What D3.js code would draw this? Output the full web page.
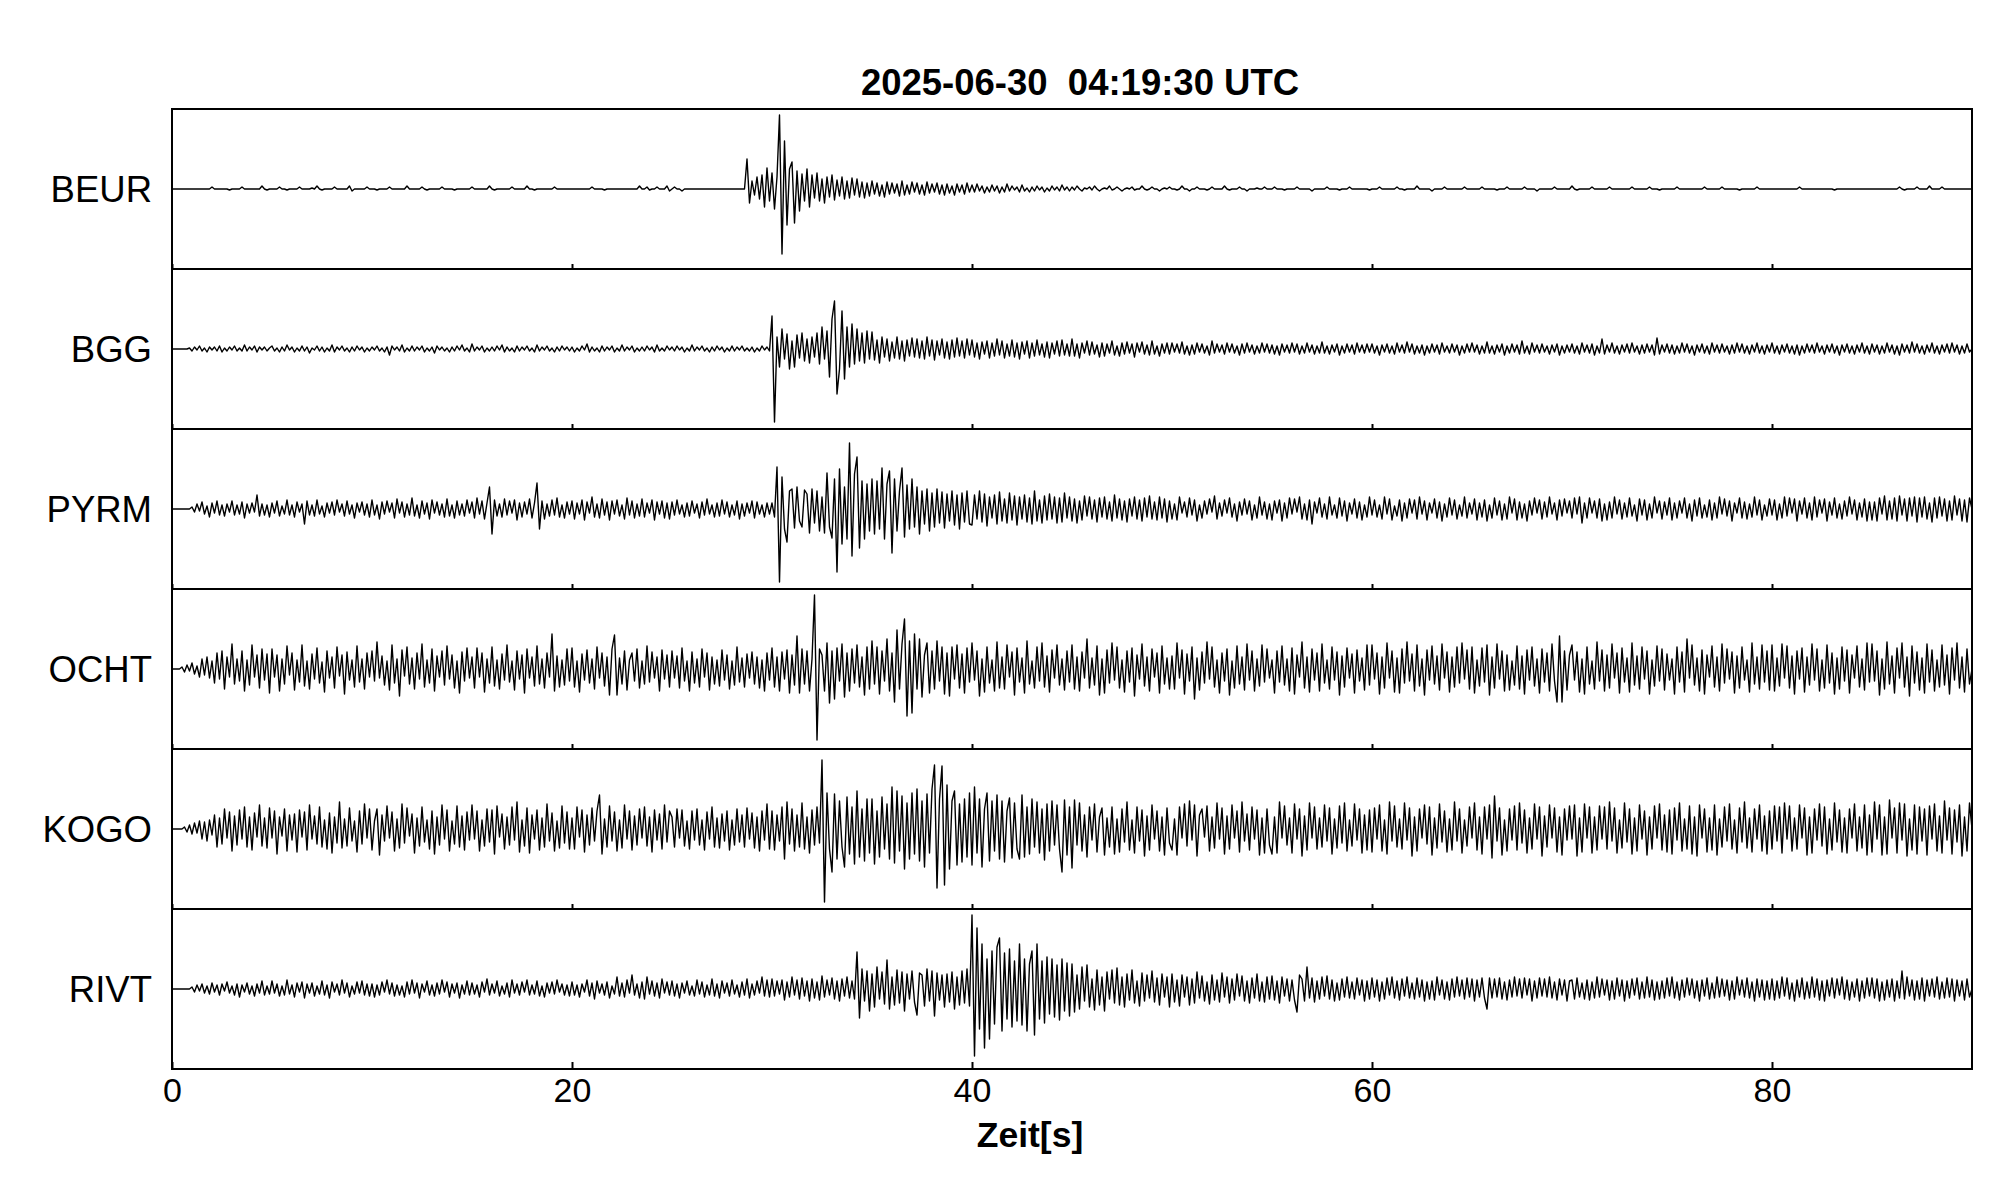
<!DOCTYPE html>
<html>
<head>
<meta charset="utf-8">
<script src="https://cdn.jsdelivr.net/npm/d3@7"></script>
<style>
body { margin: 0; background: #fff; }
svg { display: block; }
text { font-family: "Liberation Sans", Arial, sans-serif; fill: #000; }
</style>
</head>
<body>
<div id="chart"></div>
<script>
// station names, top to bottom
const stations = ["BEUR", "BGG", "PYRM", "OCHT", "KOGO", "RIVT"];
const title = "2025-06-30  04:19:30 UTC";
const xLabel = "Zeit[s]";
const xTicks = [0, 20, 40, 60, 80];

// trace deflections, one value every 0.125 s from 0 to 90 s
// (one row = 5 s), in panel pixels, positive = up
const beur = [
0,0,0,0,0,0,0,0,0,0,0,0,0,0,0,0,2,0,0,0,0,0,0,-1,0,0,0,0,2,0,0,0,0,0,0,0,3,0,-1,0,
0,0,0,2,0,0,-1,0,0,0,0,2,0,0,0,0,1,0,3,0,-1,0,0,0,0,2,0,0,0,0,0,3,-2,0,0,0,0,0,2,0,
0,0,-1,0,0,0,0,2,0,0,0,0,0,0,3,0,0,0,0,0,2,0,-1,0,0,0,0,0,2,0,0,0,0,-1,0,0,0,0,0,0,
2,0,0,0,0,0,0,3,0,-1,0,0,0,0,0,0,2,0,0,0,0,0,3,0,0,-1,0,0,0,0,0,0,0,2,0,0,0,0,0,0,
0,0,0,0,0,0,0,0,2,0,0,0,0,-1,0,0,0,0,0,0,0,0,0,0,0,0,0,3,0,0,2,-1,0,0,2,0,0,0,3,-2,
0,2,0,0,-2,0,0,0,0,0,0,0,0,0,0,0,0,0,0,0,0,0,0,0,0,0,0,0,0,0,30,-14,8,-6,12,-10,14,-18,21,-12,
16,-20,12,74,-65,48,-36,20,27,-34,18,-22,15,-12,20,-18,14,-9,16,-12,10,-14,12,-8,14,-11,9,-7,12,-10,8,-9,11,-6,10,-8,7,-9,6,-7,
8,-5,6,-7,4,-8,7,-5,6,-4,5,-7,8,-6,4,-5,7,-3,6,-5,4,-6,7,-4,5,-3,6,-5,4,-6,5,-4,3,-6,5,-3,4,-5,6,-3,
4,-3,5,-2,3,-4,2,-3,4,-2,3,-4,2,-3,5,-2,3,-1,2,-3,4,-2,1,-3,2,-2,3,-1,2,-3,1,-2,3,-1,2,-2,4,-1,2,-2,
2,-1,3,0,-2,1,0,2,-1,3,0,-2,0,1,0,3,-1,0,2,0,-2,0,1,0,2,-1,0,0,3,0,-1,0,2,0,0,-2,0,1,0,2,
0,0,-1,0,3,0,0,-2,0,0,2,0,0,0,-1,0,2,0,0,0,0,3,0,-1,0,0,0,2,0,0,-2,0,0,0,1,0,0,2,0,0,
0,2,0,0,0,-1,0,0,0,0,2,0,0,0,0,0,-2,0,0,0,0,0,2,0,0,0,0,-1,0,0,0,2,0,0,0,0,0,0,0,-1,
0,0,0,2,0,0,0,0,0,0,2,0,0,-1,0,0,0,0,3,0,0,0,0,0,-2,0,0,0,0,2,0,0,0,0,0,0,0,2,0,0,
0,0,0,0,2,0,0,0,0,0,-1,0,0,0,2,0,0,0,0,0,0,2,0,0,0,0,-2,0,0,0,0,0,0,2,0,0,0,0,0,0,
3,0,-1,0,0,0,0,0,2,0,0,0,0,0,0,2,0,0,0,0,0,0,0,0,2,0,0,0,0,0,0,2,0,0,0,-1,0,0,0,0,
0,0,2,0,0,0,0,0,0,0,0,0,0,2,0,0,0,0,0,0,2,0,0,0,0,0,0,-1,0,0,0,0,0,0,2,0,0,0,0,0,
0,0,0,0,0,0,0,0,0,0,0,2,0,0,0,0,0,0,0,0,0,0,0,0,0,-1,0,0,0,0,0,0,0,0,0,0,0,0,0,0,
0,0,0,0,0,0,0,0,0,0,0,2,0,-1,0,0,0,0,2,0,0,0,0,3,0,0,0,0,2,0,0,0,0,0,0,0,0,0,0,0,
0];

const bgg = [
0,0,0,0,0,0,0,1,-2,2,-1,3,-2,1,-3,2,-1,2,-2,3,-3,1,-2,2,-1,3,-2,1,-2,4,-2,2,-1,3,-3,2,-1,2,-2,1,
3,-2,1,-3,2,-2,4,-1,2,-3,1,-2,3,-2,2,-4,1,-1,3,-2,2,-3,1,-2,4,-3,2,-1,3,-2,1,-3,2,-2,3,-1,2,-3,1,-2,
2,-1,3,-2,1,-3,2,-6,3,-1,2,-2,4,-3,1,-2,3,-2,2,-1,3,-3,1,-2,2,-4,3,-1,2,-2,1,-3,2,-2,3,-1,4,-2,1,-3,
5,-2,2,-1,3,-3,1,-2,2,-2,3,-1,4,-3,2,-2,1,-3,3,-2,2,-1,3,-2,1,-3,4,-2,2,-1,3,-2,1,-3,2,-2,3,-1,2,-2,
2,-3,1,-2,3,-1,5,-3,2,-2,1,-3,3,-2,2,-1,3,-3,1,-2,4,-2,2,-1,3,-3,1,-2,2,-2,3,-1,2,-3,4,-2,1,-2,3,-1,
2,-2,3,-1,2,-3,1,-2,4,-2,2,-1,3,-2,1,-3,2,-2,3,-1,2,-3,1,-2,3,-2,2,-1,3,-2,1,-2,2,-3,1,-2,3,-1,2,-2,
33,-73,12,-18,20,-10,15,-20,8,-18,14,-9,16,-12,10,-14,12,-8,16,-15,22,-10,18,-28,30,48,-45,-20,38,-30,22,-18,25,-15,20,-12,16,-14,18,-10,
17,-11,9,-14,12,-8,10,-12,7,-9,12,-10,8,-12,9,-7,11,-8,10,-9,8,-10,12,-7,9,-11,8,-6,10,-9,7,-10,9,-8,11,-7,8,-9,10,-6,
9,-8,6,-10,7,-5,8,-9,6,-7,10,-6,8,-9,5,-7,9,-8,6,-10,7,-5,8,-9,6,-7,9,-6,5,-8,7,-9,6,-5,8,-7,9,-6,5,-7,
10,-7,5,-9,6,-4,8,-6,7,-5,4,-8,6,-7,5,-4,8,-6,3,-7,6,-5,7,-4,5,-8,6,-3,7,-5,4,-6,8,-5,3,-7,5,-4,6,-5,
6,-3,5,-4,7,-5,3,-6,4,-5,6,-3,5,-4,3,-6,8,-4,5,-3,4,-5,6,-3,5,-4,3,-6,5,-4,6,-3,4,-5,3,-4,6,-3,5,-4,
4,-5,3,-6,5,-3,4,-4,6,-3,5,-5,3,-4,6,-3,4,-5,3,-4,7,-4,3,-5,4,-3,5,-6,3,-4,5,-3,4,-5,6,-3,4,-4,5,-3,
5,-4,3,-6,4,-3,5,-4,3,-5,6,-3,4,-4,7,-3,5,-5,3,-4,4,-6,3,-4,5,-3,4,-5,6,-3,3,-4,5,-3,4,-6,3,-4,5,-3,
6,-3,4,-5,3,-4,7,-4,3,-5,4,-3,5,-6,3,-4,5,-3,4,-5,8,-4,3,-5,6,-3,4,-4,5,-3,3,-5,4,-3,5,-6,3,-4,4,-3,
5,-4,3,-5,6,-3,4,-4,5,-6,3,-4,10,-5,4,-3,6,-4,3,-5,4,-3,5,-4,6,-3,3,-5,4,-4,5,-3,4,-6,11,-5,4,-3,5,-4,
4,-5,3,-4,6,-3,5,-4,3,-6,4,-3,5,-4,3,-5,6,-3,4,-4,5,-3,3,-5,4,-4,6,-3,5,-4,3,-5,4,-3,6,-4,3,-5,4,-3,
6,-4,3,-5,4,-3,5,-4,3,-5,4,-6,3,-4,5,-3,4,-4,6,-3,3,-5,4,-3,5,-4,3,-6,4,-3,5,-4,3,-5,4,-3,6,-4,3,-5,
5,-3,4,-5,3,-4,6,-3,4,-5,3,-6,5,-3,4,-4,7,-3,5,-4,3,-5,4,-3,6,-4,3,-5,4,-3,5,-4,6,-3,4,-5,3,-4,5,-3,
0];

const pyrm = [
0,0,0,0,0,0,0,0,2,-3,5,-2,7,-5,3,-8,6,-4,8,-6,4,-7,5,-3,8,-6,4,-5,7,-9,5,-4,6,-3,14,-7,5,-6,4,-8,
6,-4,8,-7,3,-5,9,-6,4,-8,7,-3,5,-15,8,-6,4,-7,9,-5,3,-8,6,-4,7,-6,9,-3,5,-7,8,-5,4,-9,6,-3,7,-6,5,-8,
9,-6,4,-10,7,-5,8,-3,6,-9,10,-4,7,-8,5,-6,11,-7,4,-9,8,-5,6,-10,9,-4,7,-6,5,-8,10,-7,4,-9,8,-6,5,-7,9,-4,
7,-9,11,-5,8,-10,6,22,-25,9,-7,5,-8,10,-6,8,-4,9,-11,6,-8,7,-5,10,-9,6,26,-20,8,-10,5,-7,9,-6,11,-8,4,-9,7,-5,
8,-10,6,-5,9,-11,7,-4,12,-8,5,-9,10,-6,7,-11,8,-5,9,-7,4,-10,11,-6,8,-9,5,-7,10,-8,6,-4,9,-11,7,-5,8,-9,6,-10,
7,-6,9,-5,4,-8,6,-7,8,-4,5,-9,7,-6,10,-5,4,-8,6,-7,9,-5,7,-8,4,-6,8,-10,5,-7,6,-4,8,-9,7,-5,4,-8,6,-5,
6,-8,42,-73,32,-20,-33,18,20,-19,22,-12,-18,19,15,-24,20,-14,18,-22,12,-24,36,-18,-29,30,-63,40,-35,22,-30,66,-47,35,52,-39,28,-30,25,-22,
30,-25,28,-20,41,-30,25,38,-44,30,-22,18,41,-28,24,-20,30,-18,22,-25,18,-15,20,-22,16,-18,20,-14,17,-19,15,-12,18,-16,14,-20,16,-13,18,-15,
-16,14,-10,18,-13,15,-17,12,-9,14,-15,17,-12,10,-14,16,-11,13,-16,12,-10,14,-13,11,-15,18,-12,9,-14,13,-11,15,-10,12,-14,11,-13,16,-9,12,
-12,10,-14,8,-11,13,-7,12,-10,9,-13,11,-8,12,-10,7,-12,14,-9,10,-11,8,-13,10,-7,12,-10,9,-12,11,-8,13,-10,7,-11,12,-9,10,-13,8,
-10,5,-11,12,-4,7,-8,11,-6,9,-12,4,-9,8,-5,10,-3,13,-10,6,-7,9,-4,11,-8,5,-12,7,-6,10,-5,8,-11,4,-9,12,-6,7,-10,5,
-11,8,-4,9,-12,6,-9,11,-5,10,-3,12,-10,5,-11,9,-15,7,-4,11,-8,5,-10,12,-6,4,-9,11,-7,8,-12,6,-5,10,-9,7,-11,4,-8,12,
-6,9,-8,4,-10,12,-5,10,-11,3,-7,9,-12,6,-9,10,-4,9,-10,12,-5,8,-11,6,-4,10,-9,7,-12,5,-8,11,-6,9,-10,4,-7,12,-9,6,
-5,10,-11,6,-8,9,-12,4,-9,11,-6,8,-11,5,-10,12,-4,10,-11,7,-9,5,-12,8,-6,11,-4,9,-10,7,-8,12,-5,6,-11,9,-7,10,-4,8,
-9,11,-5,12,-14,6,-9,11,-4,8,-9,10,-12,5,-11,7,-9,12,-5,9,-10,6,-8,11,-7,4,-12,10,-6,9,-11,5,-9,12,-4,8,-10,7,-6,11,
-11,6,-9,8,-4,11,-9,5,-12,9,-7,11,-9,4,-8,9,-11,6,-9,12,-5,10,-7,8,-12,6,-4,11,-9,7,-10,5,-8,12,-6,9,-11,4,-7,10,
-6,9,-11,5,-9,12,-7,11,-4,10,-12,8,-5,11,-9,6,-11,12,-8,9,-4,10,-12,7,-6,11,-9,5,-10,8,-7,12,-5,9,-11,6,-8,10,-12,7,
-11,7,-12,11,-5,13,-11,8,-10,11,-12,13,-6,10,-12,11,-7,12,-13,11,-8,12,-10,6,-13,11,-9,12,-7,10,-12,8,-11,13,-6,10,-12,9,-13,11,
0];

const ocht = [
0,0,0,0,2,-3,4,-2,6,-5,3,-8,10,-6,12,-9,8,-14,16,-10,18,-20,12,-8,25,-15,10,-12,18,-22,9,-16,24,-8,14,-19,20,-11,15,-24,
20,-8,14,-22,10,-15,23,-6,16,-21,9,-13,24,-17,8,-20,15,-10,21,-14,7,-23,18,-9,12,-19,22,-7,14,-25,17,-11,9,-18,23,-13,10,-20,16,-8,
18,-12,27,-9,13,-16,8,-21,24,-14,10,-27,19,-7,22,-15,11,-20,16,-10,25,-18,9,-14,20,-22,13,-8,18,-16,23,-10,14,-19,8,-24,17,-12,21,-9,
12,-19,21,-8,16,-23,10,-14,22,-17,9,-20,15,-11,24,-13,8,-21,18,-10,14,-24,20,-9,12,-17,23,-15,10,-19,16,-8,35,-22,13,-18,9,-16,20,-12,
21,-18,8,-23,15,-11,19,-14,10,-20,22,-9,16,-17,12,-26,20,34,-26,11,-15,18,-21,9,16,-12,20,-19,8,-15,23,-13,17,-9,12,-22,19,-10,14,-18,
18,-9,13,-19,21,-12,8,-22,17,-14,10,-18,20,-8,16,-21,12,-15,9,-17,19,-11,14,-20,8,-16,22,-13,11,-18,15,-9,17,-15,12,-19,9,-22,16,-11,
21,-18,12,-22,17,-10,19,-24,14,-16,33,-24,20,-15,18,-22,10,74,-71,20,14,-22,26,-34,18,-30,21,-12,25,-28,16,-22,20,-14,24,-18,12,-26,22,-20,
28,-15,22,-25,18,-12,30,-22,16,-33,39,-20,25,50,-47,28,-44,35,-20,30,-28,14,26,-24,18,-20,28,-12,22,-25,16,-27,22,-10,24,-19,15,-24,21,-13,
26,-11,18,-27,10,-23,22,-14,9,-22,27,-19,12,-20,24,-8,17,-26,21,-13,11,-24,28,-15,8,-19,22,-12,26,-18,13,-23,19,-9,24,-16,10,-21,18,-13,
24,-20,12,-22,17,-9,30,-19,11,-16,23,-26,10,-24,19,-14,26,-11,22,-19,9,-23,18,-13,21,-27,14,-10,25,-17,12,-22,20,-8,16,-24,23,-15,11,-20,
13,-20,26,-9,19,-25,15,-12,22,-30,11,-21,17,-14,27,-10,22,-18,9,-24,16,-12,20,-26,8,-19,23,-15,12,-21,25,-11,18,-22,10,-17,24,-13,20,-9,
9,-24,18,-13,23,-16,10,-22,21,-25,14,-8,27,-19,12,-23,20,-11,16,-22,25,-14,9,-20,22,-11,17,-26,13,-18,21,-9,15,-24,19,-12,11,-21,24,-16,
24,-10,16,-25,12,-19,26,-9,18,-23,11,-24,20,-14,27,-12,15,-22,24,-17,10,-26,19,-11,23,-15,13,-21,25,-9,17,-23,12,-18,22,-14,26,-10,19,-20,
22,-24,9,-17,21,-13,24,-26,12,-19,25,-10,18,-22,14,-21,8,-16,23,-20,13,-25,19,-11,22,-17,10,-24,20,-13,16,-22,25,-12,-33,33,-33,18,-21,14,
24,-11,17,-23,10,-25,22,-15,8,-20,27,-12,19,-22,14,-19,25,-9,16,-24,21,-13,11,-23,26,-16,13,-20,22,-10,18,-25,9,-17,23,-12,20,-21,15,-11,
10,-25,22,-13,17,-23,30,-9,24,-16,11,-22,19,-25,14,-8,23,-18,12,-22,25,-14,20,-10,17,-24,13,-19,22,-11,9,-23,26,-15,12,-20,24,-13,18,-21,
24,-22,11,-17,25,-9,23,-19,13,-25,18,-10,21,-23,12,-16,25,-11,20,-22,9,-19,24,-14,16,-25,11,-20,22,-12,19,-24,14,-9,23,-18,10,-21,26,-13,
25,-12,18,-26,10,-20,27,-15,13,-24,21,-9,26,-18,12,-27,23,-14,17,-21,11,-24,25,-13,19,-22,9,-18,24,-16,14,-25,21,-11,26,-19,12,-23,20,-15,
0];

const kogo = [
0,0,0,0,0,2,-3,4,-5,6,-4,8,-10,7,-12,9,-6,14,-18,11,-15,20,-9,17,-22,13,-16,19,-10,22,-18,12,-21,16,-8,24,-17,11,-19,21,
-9,18,-25,12,-7,20,-22,14,-11,15,-23,19,-8,17,-21,24,-10,13,-15,22,-18,9,-20,16,-24,12,-14,27,-19,10,-17,21,-12,8,-23,18,-15,25,-9,20,
-21,8,20,-26,14,-12,23,-9,17,-22,10,-19,25,-14,21,-7,15,-24,11,-17,22,-13,9,-20,18,-25,12,-16,24,-10,19,-22,8,-15,23,-18,13,-21,17,-11,
24,-10,18,-22,9,-17,20,-13,19,-25,23,-8,15,-20,12,-16,22,-11,27,-23,9,-17,21,-24,14,-10,19,-21,11,-18,25,-12,16,-22,8,-19,23,-14,17,-20,
11,-20,22,-8,19,-23,14,-16,21,-12,18,34,-25,10,-18,23,-12,17,-22,9,-19,24,-10,18,-21,13,-16,20,-9,22,-17,12,-23,19,-11,15,-20,24,-13,18,
12,-18,20,-9,19,-17,8,-20,18,-11,20,-16,9,-21,17,-10,22,-18,11,-19,15,-12,18,-21,9,-16,20,-13,14,-18,21,-10,16,-19,12,-22,18,-11,25,-20,
18,-21,14,-12,22,-30,27,-15,20,-22,14,-18,26,-20,12,-24,19,-16,22,-14,69,-73,36,-20,-43,35,-30,28,-18,-38,32,-25,22,-35,38,-28,20,-32,30,-24,
30,-35,18,-28,32,-20,25,-30,42,-34,38,-22,33,-40,26,-30,36,-25,40,-32,28,-38,35,-24,40,64,-59,30,63,-56,44,-40,28,38,-36,25,-33,30,-28,36,
-36,42,-24,30,-38,20,36,-32,28,-22,34,-30,28,-33,18,31,-29,26,-20,-30,34,-28,22,-25,30,-18,27,-24,20,-31,25,-22,28,-16,24,-20,-43,29,-26,22,
-39,29,-16,26,-22,14,-28,22,-11,25,-23,12,21,-26,11,-18,22,-25,10,-23,20,-13,27,-21,9,-24,22,-12,19,-27,13,-21,24,-10,18,-22,12,-26,21,-14,
-21,10,-26,22,-9,25,-17,28,-11,24,-27,14,20,-8,23,-22,12,-19,26,-10,21,-25,13,-20,24,-9,18,-23,27,-12,15,-21,22,-10,19,-26,11,-24,20,-16,
-25,12,-24,27,-9,23,-16,11,-24,25,-10,20,-27,13,-21,26,-9,22,-20,11,-18,24,-12,21,-25,10,-19,23,-14,26,-22,9,-17,25,-11,20,-24,14,-21,19,
-23,21,-10,24,-22,9,-25,27,-12,23,-18,10,-20,26,-11,21,-27,12,-22,20,-9,24,-15,22,-26,11,-19,25,-13,18,-23,10,-21,27,-12,20,-24,9,-17,22,
-9,26,-21,12,-25,22,-10,24,-29,33,-12,21,-26,9,-22,20,-11,23,-21,26,-14,19,-24,11,-20,25,-10,22,-27,13,-18,24,-9,21,-23,12,-26,20,-11,23,
-10,24,-27,11,-23,25,-9,22,-24,12,-21,23,-10,22,-20,27,-12,21,-24,9,-19,26,-13,20,-25,11,-22,24,-10,18,-26,12,-20,23,-9,25,-21,14,-23,19,
-25,21,-11,26,-22,10,-20,23,-25,12,-27,24,-9,20,-23,11,-21,24,-26,10,-18,22,-12,25,-20,9,-24,21,-13,27,-19,11,-23,20,-10,24,-22,13,-25,18,
-20,23,-12,22,-24,26,-10,23,-22,11,-20,24,-9,21,-26,12,-24,20,-11,25,-17,22,-25,10,-21,26,-13,19,-23,11,-24,20,-9,25,-22,12,-19,24,-26,14,
-23,27,-10,24,-26,12,-25,29,-9,21,-24,26,-11,25,-27,10,-21,24,-25,22,-12,20,-26,23,-10,25,-22,13,-24,28,-11,21,-25,19,-13,24,-27,12,-22,26,
0];

const rivt = [
0,0,0,0,0,0,0,0,2,-3,4,-2,5,-4,3,-5,6,-3,4,-6,5,-2,7,-4,3,-6,5,-8,4,-3,6,-5,3,-7,5,-4,8,-6,3,-5,
8,-4,5,-7,3,-6,9,-5,4,-8,6,-3,7,-9,5,-4,6,-7,3,-5,8,-6,4,-9,7,-3,5,-6,9,-4,6,-8,3,-5,7,-4,8,-6,5,-7,
5,-8,4,-6,7,-3,9,-5,6,-7,4,-6,3,-8,7,-5,9,-4,6,-9,5,-3,8,-6,4,-7,6,-5,9,-3,7,-8,5,-4,6,-9,4,-5,8,-6,
6,-5,4,-8,7,-3,10,-6,5,-4,8,-7,3,-5,6,-8,9,-4,5,-6,7,-3,9,-6,4,-5,8,-7,3,-8,6,-4,7,-5,9,-3,5,-6,4,-7,
7,-6,4,-8,5,-3,9,-7,6,-10,8,-4,5,-6,7,-9,3,-5,12,-7,6,-8,9,-4,14,-6,5,-9,7,-10,12,-5,8,-7,6,-9,10,-4,7,-6,
8,-7,5,-9,6,-4,8,-6,3,-7,9,-5,7,-8,4,-6,10,-7,5,-9,8,-4,6,-7,9,-5,4,-8,7,-6,10,-9,5,-6,8,-4,12,-7,9,-8,
10,-7,8,-5,9,-11,7,-8,12,-6,9,-10,11,-7,8,-12,10,-9,7,-11,13,-8,9,-6,11,-10,8,-12,10,-7,12,-9,8,-10,37,-29,20,-12,18,-22,
15,-18,22,-10,17,-15,29,-20,12,-16,19,-14,17,-22,15,-10,18,-13,-26,16,14,-17,20,-12,18,-27,16,-11,14,-18,15,-13,17,-20,12,-16,18,-14,20,-17,
74,-67,61,-40,45,-59,30,-50,38,-35,42,51,-42,36,-30,40,-38,28,-32,45,-36,30,-42,25,38,-46,45,-30,28,-34,32,-25,30,-28,24,-31,30,-22,26,-27,
25,-23,14,-20,22,-12,24,-18,10,-21,19,-16,12,-22,17,-10,19,-14,21,-16,12,-18,15,-11,19,-14,8,-17,16,-12,14,-9,18,-13,11,-16,15,-8,12,-18,
15,-13,9,-17,14,-8,12,-16,10,-14,17,-9,13,-12,7,-15,14,-11,9,-13,16,-8,12,-14,10,-11,15,-7,13,-12,8,-14,11,-9,15,-12,7,-13,12,-10,
13,-11,8,-14,12,-7,10,-12,9,-11,-23,14,10,-12,22,-9,11,-13,8,-10,12,-7,13,-10,9,-12,6,-11,10,-8,12,-9,7,-10,11,-6,9,-12,8,-10,
11,-8,9,-12,7,-10,11,-6,12,-9,8,-11,10,-7,12,-9,6,-10,11,-8,9,-12,7,-10,8,-11,12,-6,9,-10,7,-11,10,-8,12,-7,9,-10,11,-8,
10,-12,9,-8,11,-9,-20,11,-9,10,-8,11,-10,7,-11,9,-8,12,-7,10,-9,11,-6,10,-12,8,-9,11,-7,10,-8,12,-9,7,-11,10,-6,9,-12,8,
9,-10,11,-8,6,-10,9,-11,7,-9,12,-8,10,-6,9,-11,8,-10,11,-7,9,-12,8,-9,10,-6,11,-10,7,-9,12,-8,9,-11,7,-10,8,-9,11,-7,
12,-9,7,-11,9,-8,11,-6,10,-9,8,-12,9,-7,11,-10,6,-9,12,-8,10,-7,9,-11,8,-10,12,-6,9,-8,11,-9,7,-12,10,-8,9,-11,8,-10,
10,-11,8,-9,12,-7,11,-10,6,-12,9,-8,11,-10,7,-9,12,-8,10,-11,8,-12,9,-7,11,-9,10,-6,12,-10,9,-11,7,-8,10,-12,8,-9,11,-7,
11,-9,10,-12,7,-11,9,-8,10,-12,8,-9,18,-10,12,-7,9,-11,8,-10,11,-12,9,-7,10,-8,12,-10,7,-9,11,-8,10,-12,9,-7,8,-11,10,-8,
0];

const traces = [beur, bgg, pyrm, ocht, kogo, rivt];

// layout
var width = 2005,
    height = 1202,
    plotLeft = 172,
    plotTop = 109,
    plotW = 1800,
    panelH = 160;

var svg = d3.select("#chart")
  .append("svg")
    .attr("width", width)
    .attr("height", height);

var x = d3.scaleLinear().domain([0, 90]).range([plotLeft, plotLeft + plotW]);
var y = d3.scaleLinear().domain([-80, 80]).range([panelH, 0]);

svg.append("defs").append("clipPath")
    .attr("id", "panel-clip")
  .append("rect")
    .attr("x", plotLeft)
    .attr("y", 0)
    .attr("width", plotW)
    .attr("height", panelH);

// title
svg.append("text")
    .attr("x", 1080)
    .attr("y", 95)
    .attr("text-anchor", "middle")
    .style("font-size", "36.5px")
    .style("font-weight", "bold")
    .style("white-space", "pre")
    .text(title);

stations.forEach(function(name, k) {
  var g = svg.append("g")
      .attr("transform", "translate(0," + (plotTop + k * panelH) + ")");

  var vals = traces[k];
  var step = 90 / (vals.length - 1);

  var line = d3.line()
    .x(function(d, i) { return x(i * step); })
    .y(function(d) { return y(d); });

  g.append("path")
      .datum(vals)
      .attr("clip-path", "url(#panel-clip)")
      .attr("d", line)
      .attr("fill", "none")
      .attr("stroke", "#000")
      .attr("stroke-width", 1.4)
      .attr("stroke-linejoin", "round");

  // inward ticks on the bottom edge of each panel, labels only on the last one
  var last = k === stations.length - 1;
  var axis = d3.axisBottom(x)
    .tickValues(xTicks)
    .tickSize(last ? -7 : -5)
    .tickPadding(9)
    .tickFormat(last ? d3.format("d") : "");

  var ag = g.append("g")
      .attr("transform", "translate(0," + panelH + ")")
      .call(axis);
  ag.select(".domain").remove();
  ag.selectAll(".tick line").attr("stroke", "#000").attr("stroke-width", 2);
  ag.selectAll(".tick text")
      .style("font-size", "34px")
      .style("font-family", "'Liberation Sans', Arial, sans-serif")
      .attr("fill", "#000");

  g.append("rect")
      .attr("x", plotLeft)
      .attr("y", 0)
      .attr("width", plotW)
      .attr("height", panelH)
      .attr("fill", "none")
      .attr("stroke", "#000")
      .attr("stroke-width", 2);

  g.append("text")
      .attr("x", 152)
      .attr("y", panelH / 2)
      .attr("dy", "0.36em")
      .attr("text-anchor", "end")
      .style("font-size", "36.5px")
      .text(name);
});

// x axis title
svg.append("text")
    .attr("x", 1030)
    .attr("y", 1147)
    .attr("text-anchor", "middle")
    .style("font-size", "35.5px")
    .style("font-weight", "bold")
    .text(xLabel);
</script>
</body>
</html>
